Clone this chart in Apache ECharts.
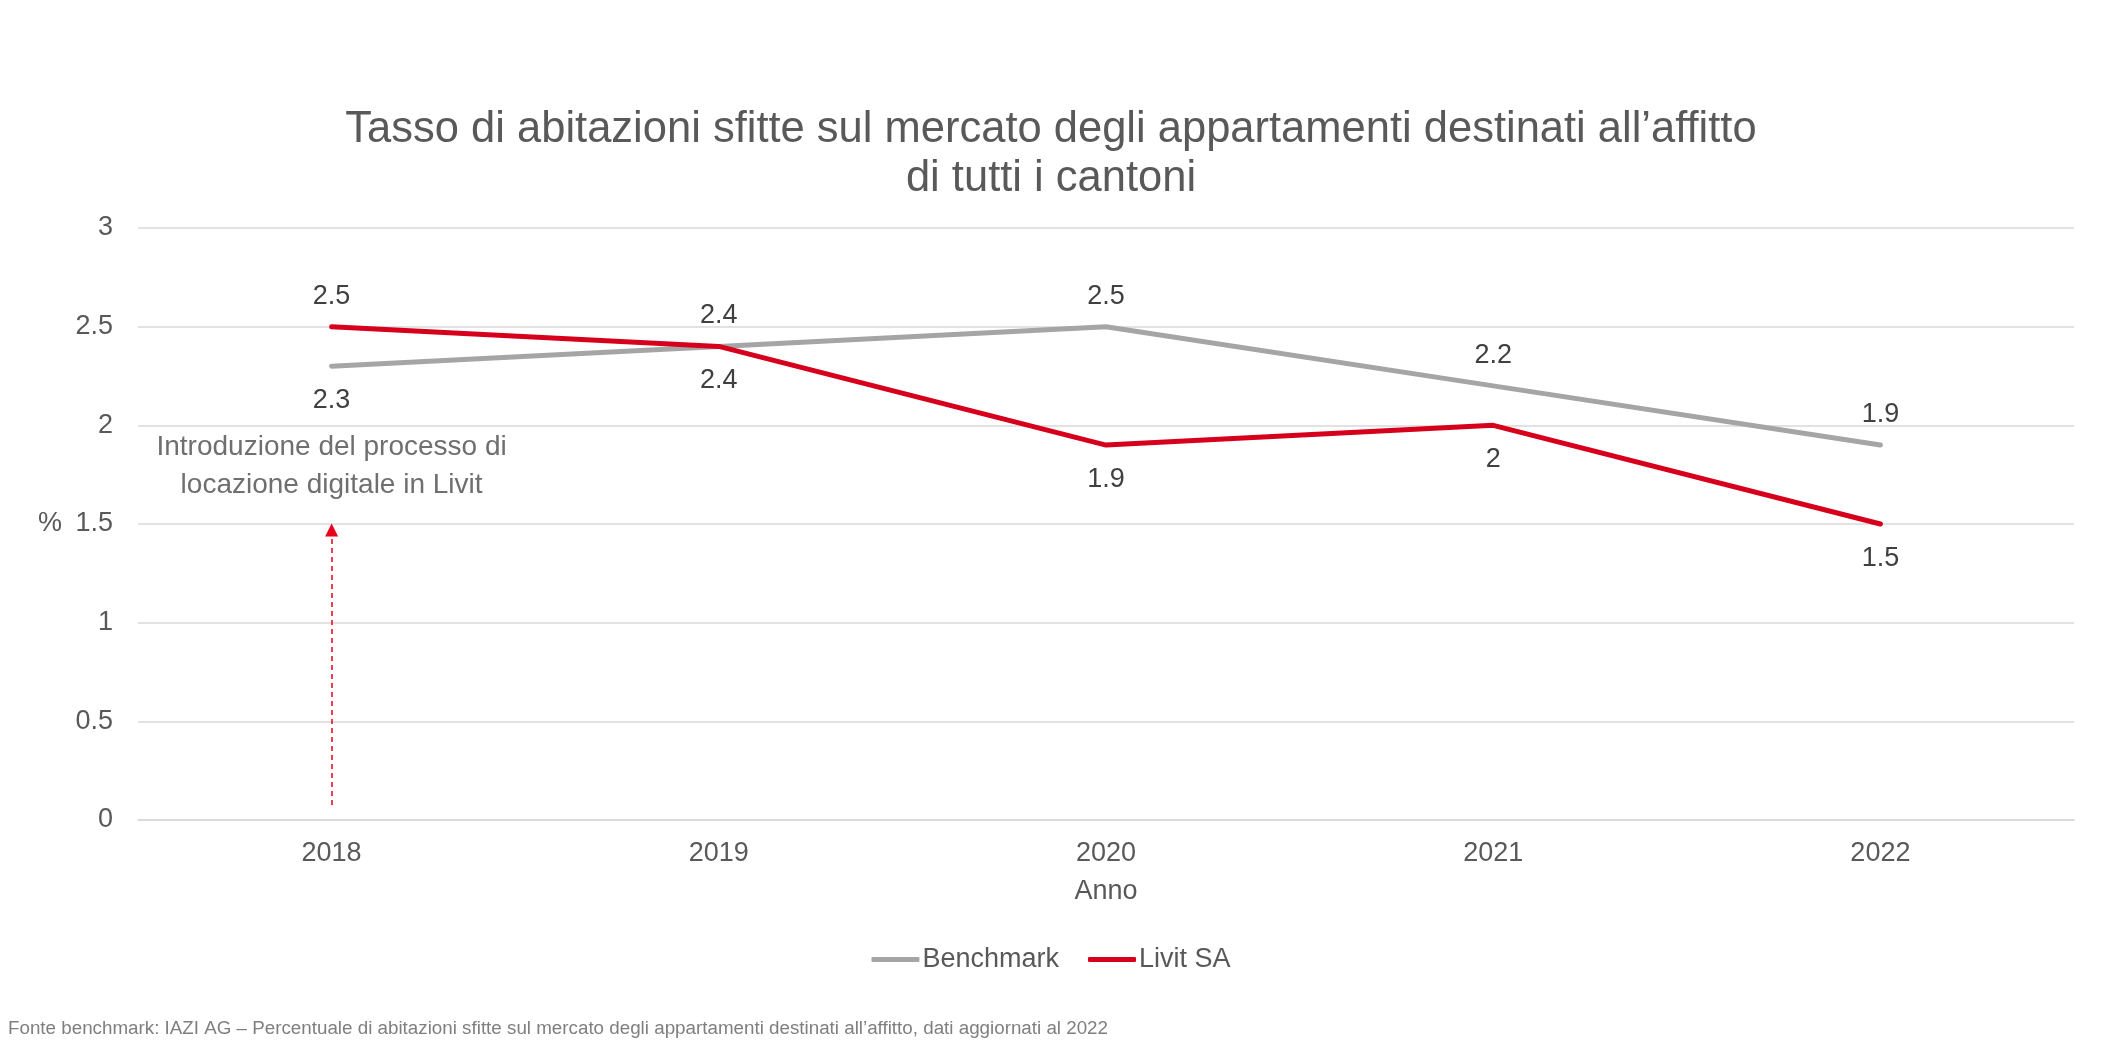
<!DOCTYPE html>
<html>
<head>
<meta charset="utf-8">
<script src="https://cdn.jsdelivr.net/npm/echarts@6/dist/echarts.min.js"></script>
<style>
html,body{margin:0;padding:0;background:#fff;}
#chart{width:2102px;height:1053px;}
</style>
</head>
<body>
<div id="chart"></div>
<script>
const titleText = "Tasso di abitazioni sfitte sul mercato degli appartamenti destinati all\u2019affitto\ndi tutti i cantoni";
const footnote = "Fonte benchmark: IAZI AG \u2013 Percentuale di abitazioni sfitte sul mercato degli appartamenti destinati all\u2019affitto, dati aggiornati al 2022";
const categories = ["2018", "2019", "2020", "2021", "2022"];
const benchmark = [2.3, 2.4, 2.5, 2.2, 1.9];
const livit = [2.5, 2.4, 1.9, 2.0, 1.5];
const yTicks = [0, 0.5, 1, 1.5, 2, 2.5, 3];
const annotationText = "Introduzione del processo di\nlocazione digitale in Livit";
const arrowFrom = 0.076;
const arrowTo = 1.47;

const FONT = 'Arial, "Liberation Sans", sans-serif';
const chart = echarts.init(document.getElementById('chart'));

function withLabels(values, firstPos, restPos) {
  return values.map((v, i) => {
    const pos = i === 0 ? firstPos : restPos;
    return {
      value: v,
      label: { position: pos, distance: pos === 'top' ? 17 : 21 }
    };
  });
}

const labelStyle = {
  show: true,
  fontSize: 27,
  fontFamily: FONT,
  color: '#404040'
};

chart.setOption({
  animation: false,
  backgroundColor: '#ffffff',
  title: [{
    text: titleText,
    left: 'center',
    top: 100,
    textStyle: { fontSize: 43.5, lineHeight: 49, color: '#595959', fontWeight: 'normal', fontFamily: FONT }
  }, {
    text: footnote,
    left: 3,
    top: 1014,
    textStyle: { fontSize: 18.8, color: '#7f7f7f', fontWeight: 'normal', fontFamily: FONT }
  }],
  legend: {
    top: 941,
    left: 'center',
    itemWidth: 48,
    itemHeight: 5,
    itemGap: 29,
    textStyle: { fontSize: 27, color: '#595959', fontFamily: FONT, padding: [0, 0, 0, -2] },
    data: [
      { name: 'Benchmark', icon: 'roundRect', itemStyle: { color: '#a5a5a5' } },
      { name: 'Livit SA', icon: 'roundRect', itemStyle: { color: '#d6001c' } }
    ]
  },
  grid: { left: 138, right: 28, top: 228, bottom: 233, containLabel: false },
  xAxis: {
    type: 'category',
    data: categories,
    boundaryGap: true,
    name: 'Anno',
    nameLocation: 'middle',
    nameGap: 58,
    nameTextStyle: { fontSize: 27, color: '#595959', fontFamily: FONT },
    axisLine: { show: true, lineStyle: { color: '#d9d9d9', width: 1.5 } },
    axisTick: { show: false },
    axisLabel: { fontSize: 27, color: '#595959', fontFamily: FONT, margin: 20 }
  },
  yAxis: {
    type: 'value',
    min: yTicks[0],
    max: yTicks[yTicks.length - 1],
    interval: 0.5,
    name: '%',
    nameLocation: 'middle',
    nameRotate: 0,
    nameGap: 76,
    nameTextStyle: { fontSize: 27, color: '#595959', fontFamily: FONT },
    axisLine: { show: false },
    axisTick: { show: false },
    axisLabel: { fontSize: 27, color: '#595959', fontFamily: FONT, margin: 25 },
    splitLine: { lineStyle: { color: '#d9d9d9', width: 1.5 } }
  },
  series: [{
    name: 'Benchmark',
    type: 'line',
    data: withLabels(benchmark, 'bottom', 'top'),
    symbol: 'circle',
    symbolSize: 0,
    showSymbol: true,
    color: '#a5a5a5',
    lineStyle: { width: 5, color: '#a5a5a5', cap: 'round' },
    label: labelStyle,
    z: 2
  }, {
    name: 'Livit SA',
    type: 'line',
    data: withLabels(livit, 'top', 'bottom'),
    symbol: 'circle',
    symbolSize: 0,
    showSymbol: true,
    color: '#d6001c',
    lineStyle: { width: 5, color: '#d6001c', cap: 'round' },
    label: labelStyle,
    z: 3,
    markLine: {
      silent: true,
      symbol: ['none', 'triangle'],
      symbolSize: [13, 13],
      lineStyle: { color: '#e8001c', width: 1.5, type: [5, 4] },
      itemStyle: { color: '#e8001c' },
      label: {
        show: true,
        position: 'end',
        distance: 26,
        formatter: annotationText,
        fontSize: 28,
        lineHeight: 38,
        color: '#6f6f6f',
        fontFamily: FONT,
        align: 'center'
      },
      data: [[{ coord: [categories[0], arrowFrom] }, { coord: [categories[0], arrowTo] }]]
    }
  }]
});
</script>
</body>
</html>
